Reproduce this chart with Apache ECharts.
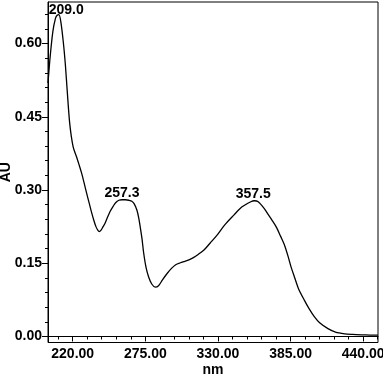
<!DOCTYPE html>
<html>
<head>
<meta charset="utf-8">
<script src="https://cdn.jsdelivr.net/npm/echarts@6/dist/echarts.min.js"></script>
<style>html,body{margin:0;padding:0;background:#fff;}#c{width:383px;height:377px;}</style>
</head>
<body>
<div id="c"></div>
<script>
// Spectrum data (wavelength nm, absorbance AU)
var wavelengths = [201.3,203,205,207,208.2,209.5,211,213,214.5,215.8,217.8,220.3,222.9,224.8,226.7,228.6,230.5,232.5,234.4,236,237.6,239,240.1,241.5,243,244.5,246.5,248.3,250.5,252.5,255,257.5,260,262.5,264.8,266.5,268.6,270,271.1,272.5,273.7,275.5,277.5,280,282.6,285,288,291.5,295,298,301.6,305,308,311.7,315,319.4,324,329.5,335,342.2,348,354.9,357.5,360.5,365.1,368,371,374,377.5,380.3,383,385.4,387.9,391,395.5,399,403.1,407,413.3,419,426,432,438.7,445,451.2];
var absorbance  = [0.519,0.575,0.625,0.652,0.658,0.659,0.645,0.6,0.555,0.505,0.435,0.389,0.368,0.352,0.335,0.315,0.294,0.273,0.253,0.238,0.225,0.218,0.215,0.218,0.225,0.232,0.245,0.256,0.266,0.274,0.279,0.28,0.28,0.279,0.277,0.272,0.259,0.243,0.225,0.2,0.172,0.142,0.122,0.107,0.101,0.104,0.116,0.129,0.14,0.147,0.151,0.154,0.157,0.162,0.168,0.177,0.191,0.208,0.228,0.249,0.265,0.276,0.278,0.276,0.262,0.25,0.238,0.225,0.205,0.188,0.165,0.142,0.122,0.098,0.074,0.057,0.04,0.028,0.016,0.009,0.0055,0.0043,0.0035,0.003,0.0028];
var peakNm = [209.0, 257.3, 357.5];
var peakAu = [0.659, 0.28, 0.278];
var xTickLabels = [220, 275, 330, 385, 440];
var yTickLabels = [0, 0.15, 0.30, 0.45, 0.60];

var xMinor = [];
for (var v = 209; v <= 451; v += 11) xMinor.push(v);
var yMinor = [];
for (var k = 0; k <= 22; k++) yMinor.push(+(k * 0.03).toFixed(2));

var FONT = '"Liberation Sans", Arial, sans-serif';
var XMIN = 201.3, XMAX = 451.2, YMIN = -0.0123, YMAX = 0.685;

var chart = echarts.init(document.getElementById('c'), null, {renderer: 'canvas'});
var lineData = wavelengths.map(function (w, i) { return [w, absorbance[i]]; });
var labelOffsets = [[8, 4], [0, 2], [-1, 2]];

chart.setOption({
  animation: false,
  backgroundColor: '#fff',
  grid: {left: 48, right: 5, top: 2, bottom: 34.5, outerBoundsMode: 'none', containLabel: false,
    show: true, borderColor: '#000', borderWidth: 1, backgroundColor: 'transparent'},
  xAxis: [{
    type: 'value', min: XMIN, max: XMAX, position: 'bottom',
    name: 'nm', nameLocation: 'middle', nameGap: 21, nameMoveOverlap: false,
    nameTextStyle: {color: '#000', fontFamily: FONT, fontWeight: 'bold', fontSize: 14},
    axisLine: {show: true, lineStyle: {color: '#000', width: 1}},
    axisTick: {show: true, inside: false, length: 5, customValues: xTickLabels, lineStyle: {color: '#000'}},
    axisLabel: {show: true, customValues: xTickLabels, margin: 5, color: '#000', fontFamily: FONT, fontWeight: 'bold', fontSize: 14,
      formatter: function (v) { return v.toFixed(2); }},
    splitLine: {show: false}
  }, {
    type: 'value', min: XMIN, max: XMAX, position: 'bottom', gridIndex: 0,
    axisLine: {show: false},
    axisTick: {show: true, inside: false, length: 3, customValues: xMinor, lineStyle: {color: '#000'}},
    axisLabel: {show: false},
    splitLine: {show: false}
  }],
  yAxis: [{
    type: 'value', min: YMIN, max: YMAX, position: 'left',
    name: 'AU', nameLocation: 'middle', nameGap: 35, nameRotate: 90, nameMoveOverlap: false,
    nameTextStyle: {color: '#000', fontFamily: FONT, fontWeight: 'bold', fontSize: 14},
    axisLine: {show: true, lineStyle: {color: '#000', width: 1}},
    axisTick: {show: true, inside: false, length: 6, customValues: yTickLabels, lineStyle: {color: '#000'}},
    axisLabel: {show: true, customValues: yTickLabels, margin: 6, color: '#000', fontFamily: FONT, fontWeight: 'bold', fontSize: 14,
      formatter: function (v) { return v.toFixed(2); }},
    splitLine: {show: false}
  }, {
    type: 'value', min: YMIN, max: YMAX, position: 'left', gridIndex: 0,
    axisLine: {show: false},
    axisTick: {show: true, inside: false, length: 3, customValues: yMinor, lineStyle: {color: '#000'}},
    axisLabel: {show: false},
    splitLine: {show: false}
  }],
  series: [{
    type: 'line', xAxisIndex: 0, yAxisIndex: 0,
    data: lineData, smooth: 0.3, showSymbol: false,
    lineStyle: {color: '#000', width: 1.3},
    markPoint: {
      symbol: 'circle', symbolSize: 0,
      itemStyle: {color: 'rgba(0,0,0,0)'},
      data: peakNm.map(function (n, i) {
        return {coord: [n, peakAu[i]], value: n,
          label: {show: true, position: 'top', distance: 2, offset: labelOffsets[i],
            formatter: n.toFixed(1), color: '#000', fontFamily: FONT, fontWeight: 'bold', fontSize: 14}};
      })
    }
  }]
});
</script>
</body>
</html>
